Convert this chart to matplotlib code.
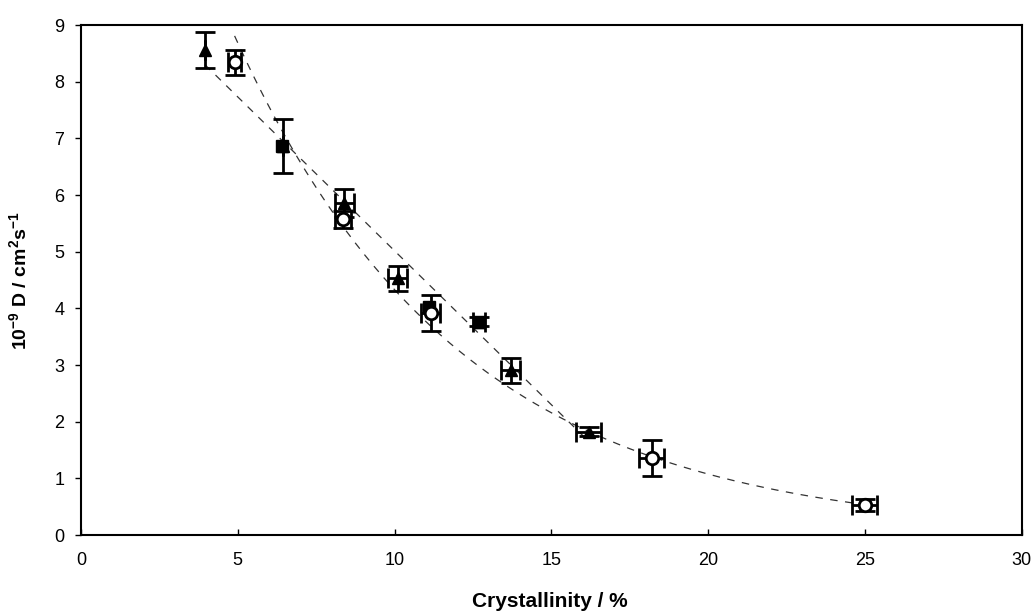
import numpy as np
import matplotlib.pyplot as plt

plt.rcParams['font.family'] = ['Liberation Sans', 'DejaVu Sans']
plt.rcParams['mathtext.fontset'] = 'custom'
plt.rcParams['mathtext.rm'] = 'Liberation Sans:bold'
plt.rcParams['mathtext.bf'] = 'Liberation Sans:bold'

# filled triangles
tri_x = [3.95, 6.45, 8.4, 10.1, 12.7, 13.7, 16.2]
tri_y = [8.56, 6.86, 5.86, 4.53, 3.76, 2.91, 1.82]
tri_yerr = [0.31, 0.48, 0.25, 0.22, 0.08, 0.22, 0.08]
tri_xerr = [0.0, 0.0, 0.3, 0.3, 0.2, 0.3, 0.4]

# open circles
circ_x = [4.9, 8.35, 11.15, 18.2, 25.0]
circ_y = [8.34, 5.57, 3.92, 1.36, 0.53]
circ_yerr = [0.22, 0.15, 0.32, 0.32, 0.1]
circ_xerr = [0.2, 0.25, 0.3, 0.4, 0.4]

# filled squares
sq_x = [6.4, 11.1, 12.7]
sq_y = [6.86, 4.02, 3.76]

fig = plt.figure(figsize=(10.34, 6.13), dpi=100)
ax = fig.add_axes([0.0783, 0.1272, 0.9097, 0.832])

# trend lines: linear for triangles, exponential for circles
dash = (0, (6, 6))
pt = np.polyfit(tri_x, tri_y, 1)
xt = np.linspace(min(tri_x), max(tri_x), 100)
ax.plot(xt, np.polyval(pt, xt), color='#333333', lw=0.9, ls=dash)
pc = np.polyfit(circ_x, np.log(circ_y), 1)
xc = np.linspace(min(circ_x), max(circ_x), 200)
ax.plot(xc, np.exp(np.polyval(pc, xc)), color='#333333', lw=0.9, ls=dash)

eb = dict(ecolor='black', elinewidth=2, capsize=7, capthick=2, ls='none')
ax.errorbar(tri_x, tri_y, yerr=tri_yerr, xerr=tri_xerr, fmt='^', ms=9,
            mfc='black', mec='black', **eb)
ax.errorbar(circ_x, circ_y, yerr=circ_yerr, xerr=circ_xerr, fmt='o', ms=9,
            mfc='white', mec='black', mew=2, **eb)
ax.plot(sq_x, sq_y, 's', ms=8, mfc='black', mec='black', ls='none')

ax.set_xlim(0, 30)
ax.set_ylim(0, 9)
ax.set_xticks(range(0, 31, 5))
ax.set_yticks(range(0, 10))
ax.tick_params(axis='both', labelsize=13, width=1, length=4)
ax.tick_params(axis='x', direction='in', pad=12)
ax.tick_params(axis='y', direction='out', pad=8)
for s in ax.spines.values():
    s.set_linewidth(1.5)

ax.set_xlabel('Crystallinity / %', fontsize=15, fontweight='bold')
ax.xaxis.set_label_coords(0.498, -0.112)
ax.set_ylabel(r'10$^{-9}$ D / cm$^{2}$s$^{-1}$', fontsize=14, fontweight='bold')
ax.yaxis.set_label_coords(-0.053, 0.498)

fig.savefig('out.png', dpi=100)
